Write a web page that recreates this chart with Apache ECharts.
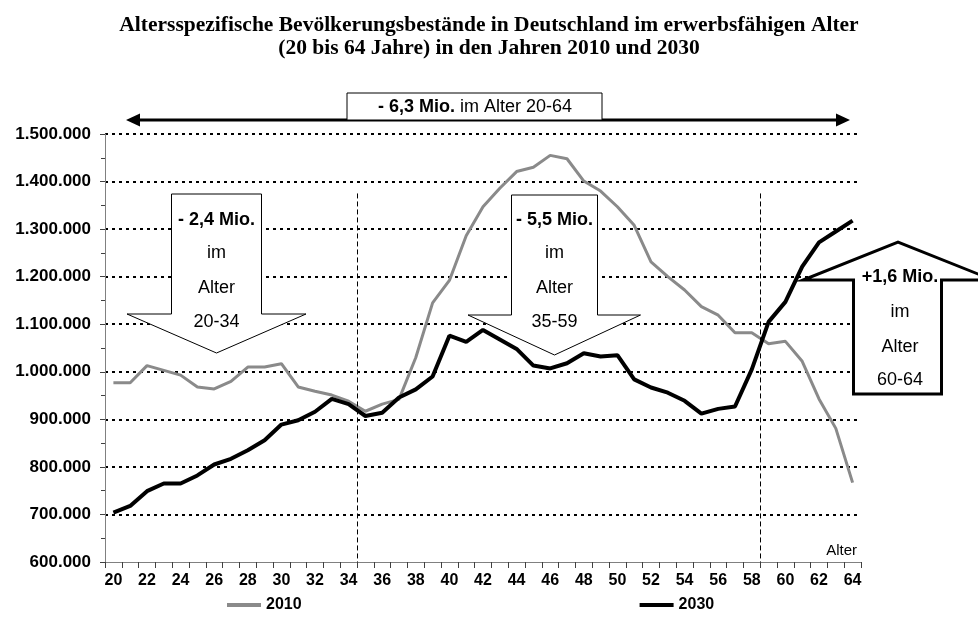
<!DOCTYPE html>
<html>
<head>
<meta charset="utf-8">
<script src="https://cdn.jsdelivr.net/npm/echarts@6/dist/echarts.min.js"></script>
<style>
  html, body { margin: 0; padding: 0; background: #fff; }
  #chart { width: 978px; height: 632px; }
</style>
</head>
<body>
<div id="chart"></div>
<script>
// Altersjahre 20 bis 64
const ages = ['20', '21', '22', '23', '24', '25', '26', '27', '28', '29',
  '30', '31', '32', '33', '34', '35', '36', '37', '38', '39',
  '40', '41', '42', '43', '44', '45', '46', '47', '48', '49',
  '50', '51', '52', '53', '54', '55', '56', '57', '58', '59',
  '60', '61', '62', '63', '64'];

const pop2010 = [977000, 977000, 1013000, 1003000, 993000, 968000, 964000, 980000, 1010000, 1010000,
  1017000, 968000, 959000, 951000, 938000, 917000, 932000, 942000, 1030000, 1145000,
  1192000, 1286000, 1347000, 1386000, 1421000, 1430000, 1455000, 1448000, 1401000, 1380000,
  1347000, 1308000, 1231000, 1200000, 1172000, 1137000, 1119000, 1082000, 1082000, 1059000,
  1064000, 1022000, 943000, 881000, 767000];

const pop2030 = [704000, 718000, 749000, 765000, 765000, 782000, 805000, 817000, 835000, 856000,
  889000, 898000, 916000, 943000, 932000, 907000, 914000, 946000, 963000, 990000,
  1076000, 1063000, 1088000, 1068000, 1048000, 1013000, 1007000, 1018000, 1039000, 1032000,
  1035000, 984000, 967000, 956000, 939000, 912000, 922000, 927000, 1005000, 1105000,
  1147000, 1221000, 1272000, 1295000, 1318000];

// Grenzen der Altersgruppen (20-34 | 35-59 | 60-64)
const groupBorders = [34.5, 58.5];

const FONT = 'Liberation Sans, Arial, sans-serif';

const fmt = (v) => String(v).replace(/\B(?=(\d{3})+(?!\d))/g, '.');

const chart = echarts.init(document.getElementById('chart'));

// Pfeil nach unten / oben als Polygon
const arrowPoints = (l, r, base, sh, hl, hr, tipX, tipY) => [
  [l, base], [r, base], [r, sh], [hr, sh], [tipX, tipY], [hl, sh], [l, sh],
];

const arrowText = (cx, ys, lines) => lines.map((t, i) => ({
  type: 'text',
  x: cx,
  y: ys[i],
  z: 101,
  style: {
    text: t,
    font: (i === 0 ? 'bold ' : '') + '18px ' + FONT,
    fill: '#000',
    align: 'center',
    verticalAlign: 'middle',
  },
}));

const option = {
  animation: false,
  title: {
    text: 'Altersspezifische Bevölkerungsbestände in Deutschland im erwerbsfähigen Alter\n(20 bis 64 Jahre) in den Jahren 2010 und 2030',
    left: 'center',
    top: 9,
    textStyle: {
      fontFamily: 'Liberation Serif, Times New Roman, serif',
      fontWeight: 'bold',
      fontSize: 21.5,
      lineHeight: 23,
      color: '#000',
    },
  },
  grid: {
    left: 105,
    right: 117,
    top: 134,
    bottom: 70,
  },
  legend: {
    left: 222,
    top: 592,
    itemGap: 338,
    itemWidth: 34,
    itemHeight: 4,
    icon: 'rect',
    textStyle: {
      fontFamily: FONT,
      fontWeight: 'bold',
      fontSize: 16,
      color: '#000',
    },
    data: ['2010', '2030'],
  },
  xAxis: [
    {
      type: 'category',
      data: ages,
      boundaryGap: true,
      axisLine: { lineStyle: { color: '#808080', width: 1 } },
      axisTick: { show: true, interval: 0, length: 6, lineStyle: { color: '#404040' } },
      axisLabel: {
        interval: 1,
        margin: 11,
        fontFamily: FONT,
        fontWeight: 'bold',
        fontSize: 16,
        color: '#000',
      },
      splitLine: { show: false },
    },
    {
      // unsichtbare Hilfsachse für die Trennlinien der Altersgruppen
      type: 'value',
      show: false,
      min: 19.5,
      max: 64.5,
    },
  ],
  yAxis: {
    type: 'value',
    min: 600000,
    max: 1500000,
    interval: 100000,
    axisLine: { show: true, lineStyle: { color: '#808080', width: 1 } },
    axisTick: { show: true, length: 5, lineStyle: { color: '#404040' } },
    minorTick: { show: true, splitNumber: 2, length: 4, lineStyle: { color: '#404040' } },
    axisLabel: {
      margin: 14,
      fontFamily: FONT,
      fontWeight: 'bold',
      fontSize: 17,
      color: '#000',
      formatter: fmt,
    },
    splitLine: {
      show: true,
      showMinLine: false,
      lineStyle: { color: '#000', width: 2, type: [3, 4] },
    },
  },
  series: [
    {
      name: '2010',
      type: 'line',
      data: pop2010,
      symbol: 'none',
      lineStyle: { color: '#8a8a8a', width: 3 },
      itemStyle: { color: '#8a8a8a' },
      z: 3,
    },
    {
      name: '2030',
      type: 'line',
      data: pop2030,
      symbol: 'none',
      lineStyle: { color: '#000', width: 4 },
      itemStyle: { color: '#000' },
      z: 4,
    },
    {
      name: 'Grenzen',
      type: 'line',
      xAxisIndex: 1,
      data: [],
      silent: true,
      markLine: {
        silent: true,
        symbol: 'none',
        label: { show: false },
        lineStyle: { color: '#000', width: 1, type: [5, 3] },
        data: groupBorders.map((b) => [
          { coord: [b, 1375000] },
          { coord: [b, 600000] },
        ]),
      },
    },
  ],
  graphic: [
    // Gesamtpfeil oben
    {
      type: 'line',
      z: 100,
      shape: { x1: 134, y1: 120, x2: 842, y2: 120 },
      style: { stroke: '#000', lineWidth: 3 },
    },
    {
      type: 'polygon',
      z: 100,
      shape: { points: [[126, 120], [140, 113.5], [140, 126.5]] },
      style: { fill: '#000' },
    },
    {
      type: 'polygon',
      z: 100,
      shape: { points: [[850, 120], [836, 113.5], [836, 126.5]] },
      style: { fill: '#000' },
    },
    {
      type: 'rect',
      z: 100,
      shape: { x: 347, y: 93, width: 255, height: 27 },
      style: { fill: '#fff', stroke: '#000', lineWidth: 1 },
    },
    {
      type: 'text',
      x: 475,
      y: 107,
      z: 101,
      style: {
        text: '{b|- 6,3 Mio.} im Alter 20-64',
        font: '18px ' + FONT,
        fill: '#000',
        align: 'center',
        verticalAlign: 'middle',
        rich: { b: { fontWeight: 'bold', fontSize: 18, fontFamily: FONT } },
      },
    },
    // Pfeil 20-34
    {
      type: 'polygon',
      z: 100,
      shape: { points: arrowPoints(171.5, 261.5, 194, 314, 127, 306, 216.5, 353) },
      style: { fill: '#fff', stroke: '#000', lineWidth: 1 },
    },
    ...arrowText(216.5, [220, 253, 288, 322], ['- 2,4 Mio.', 'im', 'Alter', '20-34']),
    // Pfeil 35-59
    {
      type: 'polygon',
      z: 100,
      shape: { points: arrowPoints(511.5, 597.5, 195, 315, 468, 640.5, 554.5, 355) },
      style: { fill: '#fff', stroke: '#000', lineWidth: 1 },
    },
    ...arrowText(554.5, [220, 253, 288, 322], ['- 5,5 Mio.', 'im', 'Alter', '35-59']),
    // Pfeil 60-64
    {
      type: 'polygon',
      z: 100,
      shape: { points: arrowPoints(853.5, 941.5, 394, 280, 803, 993, 898, 242) },
      style: { fill: '#fff', stroke: '#000', lineWidth: 3 },
    },
    ...arrowText(900, [277, 312, 347, 380], ['+1,6 Mio.', 'im', 'Alter', '60-64']),
    // Achsenbeschriftung
    {
      type: 'text',
      x: 857,
      y: 551,
      z: 101,
      style: {
        text: 'Alter',
        font: '15px ' + FONT,
        fill: '#000',
        align: 'right',
        verticalAlign: 'middle',
      },
    },
  ],
};

chart.setOption(option);
</script>
</body>
</html>
